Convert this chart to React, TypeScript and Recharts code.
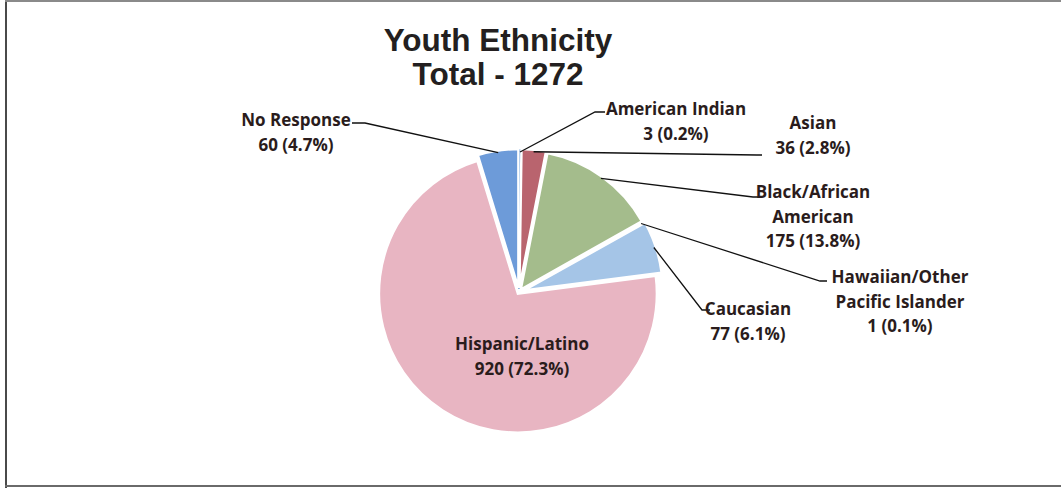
import { Pie, PieChart, Cell, Sector } from "recharts";

const categories = [
  "American Indian",
  "Asian",
  "Black/African\nAmerican",
  "Hawaiian/Other\nPacific Islander",
  "Caucasian",
  "Hispanic/Latino",
  "No Response",
];
const counts = [3, 36, 175, 1, 77, 920, 60];
const colors = ["#2f79cb", "#b9646e", "#a4bc8c", "#8d7bb0", "#a5c5e7", "#e8b5c2", "#6d9bd9"];
const titleLines = ["Youth Ethnicity", "Total - 1272"];

const total = counts.reduce((a, b) => a + b, 0);
const data = categories.map((name, i) => ({ name, value: counts[i] }));

// how far each slice is pulled out of the pie
const explode = [3, 4, 3, 3, 5, 2, 4];

// label placement relative to the pie centre: text centre, elbow, line end
const labelLayout = [
  { tx: 157, ty: -183, ex: 76, ey: -180, lx: 86, ly: -180 },
  { tx: 294, ty: -169, ex: 238, ey: -137, lx: 243, ly: -137 },
  { tx: 294, ty: -100, ex: 234, ey: -95, lx: 241, ly: -95 },
  { tx: 381, ty: -15, ex: 301, ey: -11, lx: 308, ly: -11 },
  { tx: 229, ty: 17, ex: 183, ey: 18, lx: 191, ly: 18 },
  { tx: 3, ty: 52, inside: true },
  { tx: -223, ty: -172, ex: -154, ey: -169, lx: -167, ly: -169 },
];

const RAD = Math.PI / 180;
const polar = (cx: number, cy: number, r: number, angle: number) => [
  cx + r * Math.cos(-angle * RAD),
  cy + r * Math.sin(-angle * RAD),
];

const textColor = "#2a1c1c";

function ExplodedSector(props: any) {
  const off = explode[props.index] ?? 0;
  const [dx, dy] = polar(0, 0, off, props.midAngle);
  return <Sector {...props} cx={props.cx + dx} cy={props.cy + dy} />;
}

function renderLabel(props: any) {
  const { cx, cy, midAngle, outerRadius, index } = props;
  const spot = labelLayout[index];
  const lines = [...categories[index].split("\n"), `${counts[index]} (${((counts[index] / total) * 100).toFixed(1)}%)`];
  const off = explode[index] ?? 0;
  const [sx, sy] = polar(cx, cy, outerRadius + off - 2, midAngle);
  return (
    <g key={`lbl-${index}`}>
      {!spot.inside && (
        <polyline
          points={`${sx},${sy} ${cx + spot.ex},${cy + spot.ey} ${cx + spot.lx},${cy + spot.ly}`}
          fill="none"
          stroke="#111"
          strokeWidth={1.3}
        />
      )}
      <text
        x={cx + spot.tx}
        y={cy + spot.ty}
        textAnchor="middle"
        fill={textColor}
        fontFamily="'Open Sans', sans-serif"
        fontWeight={700}
        fontSize={17}
      >
        {lines.map((ln, i) => (
          <tspan key={i} x={cx + spot.tx} dy={i === 0 ? 6 : 24.5}>
            {ln}
          </tspan>
        ))}
      </text>
    </g>
  );
}

const frameLine = (style: React.CSSProperties) => (
  <div style={{ position: "absolute", zIndex: 5, pointerEvents: "none", ...style }} />
);

export default function App() {
  return (
    <div style={{ position: "absolute", left: 0, top: 0, width: 1061, height: 489, background: "#fff", overflow: "hidden" }}>
      <div
        style={{
          position: "absolute",
          left: 298,
          width: 400,
          top: 23,
          textAlign: "center",
          fontFamily: "'Liberation Sans', Arial, sans-serif",
          fontWeight: 700,
          fontSize: 31.5,
          lineHeight: "34px",
          color: "#231f20",
        }}
      >
        {titleLines.map((t) => (
          <div key={t}>{t}</div>
        ))}
      </div>
      <div style={{ position: "absolute", left: 0, top: 0 }}>
        <PieChart width={1061} height={489}>
          <Pie
            data={data}
            dataKey="value"
            nameKey="name"
            cx={514}
            cy={287}
            outerRadius={139}
            startAngle={90}
            endAngle={-270}
            stroke="#ffffff"
            strokeWidth={2.5}
            shape={ExplodedSector}
            label={renderLabel}
            labelLine={false}
            isAnimationActive={false}
          >
            {data.map((d, i) => (
              <Cell
                key={d.name}
                fill={colors[i]}
                stroke={i === 0 ? colors[0] : "#ffffff"}
                strokeWidth={i === 0 ? 1.5 : 2.5}
              />
            ))}
          </Pie>
        </PieChart>
      </div>
      {frameLine({ left: 5, top: 0, width: 2, height: 488, background: "#4a4a4a" })}
      {frameLine({ left: 5, top: 0, width: 1056, height: 2, background: "#8a8a8a" })}
      {frameLine({ left: 5, top: 485, width: 1056, height: 2, background: "#6a6a6a" })}
    </div>
  );
}
